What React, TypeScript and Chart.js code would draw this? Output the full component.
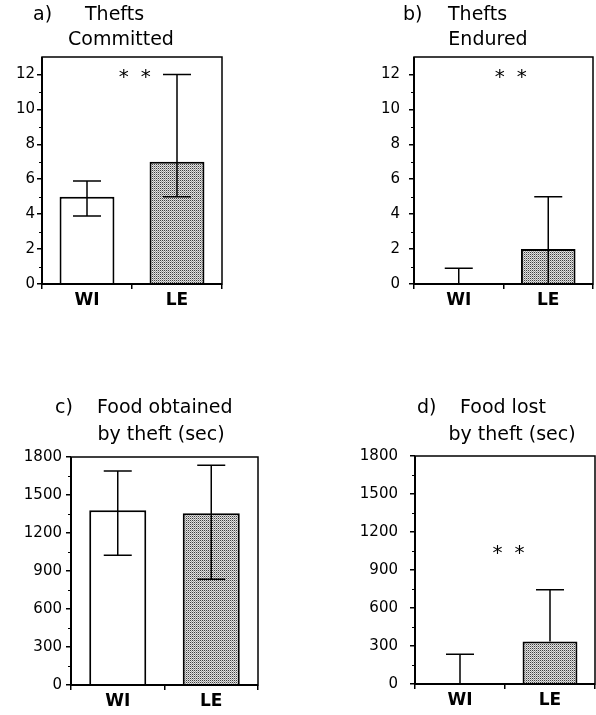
import React, { useEffect, useRef } from "react";
import { Chart, registerables } from "chart.js";

Chart.register(...registerables);

// ---------- data ----------
const categories = ["WI", "LE"];

const panelLetters = ["a)", "b)", "c)", "d)"];
const titleFirst = ["Thefts", "Thefts", "Food obtained", "Food lost"];
const titleSecond = ["Committed", "Endured", "by theft (sec)", "by theft (sec)"];

const meansA = [5, 7];
const lowA = [3.9, 5];
const highA = [5.9, 12];

const meansB = [0, 2];
const lowB = [0, 0];
const highB = [0.9, 5];

const meansC = [1380, 1355];
const lowC = [1025, 835];
const highC = [1690, 1735];

const meansD = [0, 335];
const lowD = [0, 335];
const highD = [235, 745];

const yMax = [13, 13, 1800, 1800];
const yStep = [2, 2, 300, 300];

// significance markers "* *" (x in category index units, y in data units)
const sigX = [0.53, 0.58, null, 0.54];
const sigY = [12, 12, null, 1050];

const means = [meansA, meansB, meansC, meansD];
const lows = [lowA, lowB, lowC, lowD];
const highs = [highA, highB, highC, highD];

// ---------- layout (not data) ----------
const FONT = "'DejaVu Sans', sans-serif";
const geom = [
  { left: 0, top: 0, w: 298, h: 320, padL: 0, yW: 42, padR: 76, padT: 57, xH: 36, tickPad: 2,
    t1: { lx: 33, wx: 85, y: 15 }, t2: { cx: 121, y: 40 } },
  { left: 298, top: 0, w: 298, h: 320, padL: 60, yW: 56, padR: 3, padT: 57, xH: 36, tickPad: 9,
    t1: { lx: 105, wx: 150, y: 15 }, t2: { cx: 190, y: 40 } },
  { left: 0, top: 360, w: 298, h: 355, padL: 0, yW: 71, padR: 40, padT: 97, xH: 30, tickPad: 4,
    t1: { lx: 55, wx: 97, y: 48 }, t2: { cx: 161, y: 75 } },
  { left: 298, top: 360, w: 298, h: 355, padL: 30, yW: 87, padR: 1, padT: 96, xH: 31, tickPad: 12,
    t1: { lx: 119, wx: 162, y: 48 }, t2: { cx: 214, y: 75 } },
];

function makePattern(): CanvasPattern | string {
  const c = document.createElement("canvas");
  c.width = 2;
  c.height = 2;
  const g = c.getContext("2d");
  if (!g) return "#a8a8a8";
  g.fillStyle = "#404040";
  g.fillRect(0, 0, 1, 1);
  g.fillStyle = "#d8d8d8";
  g.fillRect(1, 0, 1, 1);
  g.fillStyle = "#e8e8e8";
  g.fillRect(0, 1, 1, 1);
  g.fillStyle = "#a0a0a0";
  g.fillRect(1, 1, 1, 1);
  const p = g.createPattern(c, "repeat");
  return p || "#a8a8a8";
}

function buildChart(canvas: HTMLCanvasElement, i: number) {
  const G = geom[i];
  const pattern = makePattern();
  const decor = {
    id: "decor" + i,
    afterDatasetsDraw(chart: any) {
      const ctx = chart.ctx as CanvasRenderingContext2D;
      const a = chart.chartArea;
      const xs = chart.scales.x;
      const ys = chart.scales.y;
      ctx.save();
      ctx.strokeStyle = "#000";
      ctx.fillStyle = "#000";
      // frame
      ctx.lineWidth = 1.5;
      ctx.strokeRect(a.left, a.top, a.right - a.left, a.bottom - a.top);
      ctx.lineWidth = 2;
      ctx.beginPath();
      ctx.moveTo(a.left, a.top);
      ctx.lineTo(a.left, a.bottom);
      ctx.lineTo(a.right, a.bottom);
      ctx.stroke();
      // minor ticks
      ctx.lineWidth = 1;
      const st = yStep[i];
      for (let v = st / 2; v < yMax[i]; v += st) {
        const py = Math.round(ys.getPixelForValue(v)) + 0.5;
        ctx.beginPath();
        ctx.moveTo(a.left - 3, py);
        ctx.lineTo(a.left, py);
        ctx.stroke();
      }
      // error bars
      ctx.lineWidth = 1.5;
      const m = means[i], lo = lows[i], hi = highs[i];
      for (let k = 0; k < m.length; k++) {
        const px = xs.getPixelForValue(k);
        const yLo = ys.getPixelForValue(lo[k]);
        const yHi = ys.getPixelForValue(hi[k]);
        ctx.beginPath();
        ctx.moveTo(px, yLo);
        ctx.lineTo(px, yHi);
        ctx.moveTo(px - 14, yHi);
        ctx.lineTo(px + 14, yHi);
        if (lo[k] < m[k] && lo[k] > 0) {
          ctx.moveTo(px - 14, yLo);
          ctx.lineTo(px + 14, yLo);
        }
        ctx.stroke();
      }
      // significance
      const sx = sigX[i], sy = sigY[i];
      if (sx !== null && sy !== null) {
        const cx = xs.getPixelForValue(0) + (xs.getPixelForValue(1) - xs.getPixelForValue(0)) * sx;
        const cy = ys.getPixelForValue(sy);
        ctx.font = "20px " + FONT;
        ctx.textAlign = "center";
        ctx.textBaseline = "middle";
        ctx.fillText("*", cx - 11, cy + 3);
        ctx.fillText("*", cx + 11, cy + 3);
      }
      // titles
      ctx.font = "19px " + FONT;
      ctx.textBaseline = "middle";
      ctx.textAlign = "left";
      ctx.fillText(panelLetters[i], G.t1.lx, G.t1.y);
      ctx.fillText(titleFirst[i], G.t1.wx, G.t1.y);
      ctx.textAlign = "center";
      ctx.fillText(titleSecond[i], G.t2.cx, G.t2.y);
      ctx.restore();
    },
  };

  return new Chart(canvas, {
    type: "bar",
    data: {
      labels: categories,
      datasets: [
        {
          data: means[i],
          backgroundColor: ["#ffffff", pattern as any],
          borderColor: "#000",
          borderWidth: 2,
          barPercentage: 0.61,
          categoryPercentage: 1,
        },
      ],
    },
    options: {
      animation: false,
      responsive: false,
      devicePixelRatio: 1,
      layout: { padding: { left: G.padL, right: G.padR, top: G.padT, bottom: 0 } },
      plugins: {
        legend: { display: false },
        tooltip: { enabled: false },
        title: { display: false },
      },
      scales: {
        x: {
          offset: true,
          grid: { offset: true, drawOnChartArea: false, drawTicks: true, tickLength: 5, color: "#000", lineWidth: 1.5 },
          border: { display: false },
          ticks: { color: "#000", font: { family: FONT, size: 17, weight: "bold" }, padding: 1 },
          afterFit(scale: any) {
            scale.height = G.xH;
          },
        },
        y: {
          min: 0,
          max: yMax[i],
          grid: { drawOnChartArea: false, drawTicks: true, tickLength: 5, color: "#000", lineWidth: 1.5 },
          border: { display: false },
          ticks: {
            stepSize: yStep[i],
            color: "#000",
            font: { family: FONT, size: 15 },
            padding: G.tickPad,
            callback: (v: any) => String(v),
          },
          afterBuildTicks(scale: any) {
            scale.ticks = scale.ticks.filter((t: any) => Math.abs(t.value / yStep[i] - Math.round(t.value / yStep[i])) < 1e-6);
          },
          afterFit(scale: any) {
            scale.width = G.yW;
          },
        },
      },
    },
    plugins: [decor],
  } as any);
}

export default function App() {
  const refs = [useRef<HTMLCanvasElement>(null), useRef<HTMLCanvasElement>(null), useRef<HTMLCanvasElement>(null), useRef<HTMLCanvasElement>(null)];
  useEffect(() => {
    const charts = refs.map((r, i) => (r.current ? buildChart(r.current, i) : null));
    return () => {
      charts.forEach((c) => c && c.destroy());
    };
  }, []);
  return (
    <div style={{ position: "fixed", left: 0, top: 0, width: 596, height: 715, background: "#fff" }}>
      {geom.map((G, i) => (
        <canvas
          key={i}
          ref={refs[i]}
          width={G.w}
          height={G.h}
          style={{ position: "absolute", left: G.left, top: G.top, width: G.w, height: G.h }}
        />
      ))}
    </div>
  );
}
